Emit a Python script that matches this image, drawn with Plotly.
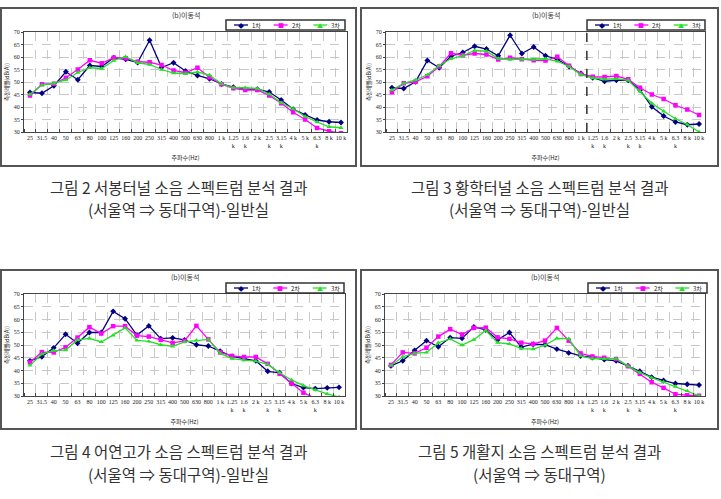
import plotly.graph_objects as go

# ---------------- data ----------------
categories = ["25", "31.5", "40", "50", "63", "80", "100", "125", "160", "200", "250",
              "315", "400", "500", "630", "800", "1 k", "1.25 k", "1.6 k", "2 k",
              "2.5 k", "3.15 k", "4 k", "5 k", "6.3 k", "8 k", "10 k"]
series_names = ["1차", "2차", "3차"]

# Fig 2 서봉터널
fig2_s1 = [45.8, 45.5, 48.5, 54.1, 50.9, 56.6, 56.2, 59.7, 59.1, 57.8, 66.7, 55.8, 57.7, 54.4,
           52.6, 51.3, 49.2, 47.9, 47.1, 47.1, 46.0, 42.8, 39.1, 36.8, 34.8, 34.1, 33.8]
fig2_s2 = [44.6, 49.1, 49.3, 51.7, 55.0, 58.7, 57.5, 59.7, 59.5, 58.1, 57.9, 56.8, 54.6, 53.7,
           55.7, 51.9, 49.1, 47.5, 46.8, 46.8, 44.6, 41.5, 37.9, 35.0, 31.6, 30.3, 29.5]
fig2_s3 = [45.1, 48.8, 49.5, 50.8, 53.8, 55.7, 55.4, 58.6, 60.1, 57.7, 57.0, 55.0, 53.6, 53.3,
           54.0, 52.8, 49.3, 47.7, 47.7, 47.4, 45.2, 41.7, 39.3, 36.2, 34.0, 32.1, 31.7]

# Fig 3 황학터널
fig3_s1 = [47.7, 47.4, 50.1, 58.6, 55.7, 60.3, 61.8, 64.3, 63.2, 60.5, 68.7, 61.4, 64.0, 60.5,
           59.1, 56.2, 53.4, 51.7, 50.3, 50.7, 50.7, 46.8, 40.1, 36.4, 34.0, 32.9, 33.2]
fig3_s2 = [45.9, 49.5, 50.1, 52.3, 56.2, 61.5, 60.7, 61.4, 61.0, 59.0, 59.7, 59.1, 58.7, 58.6,
           60.1, 56.5, 53.2, 52.1, 52.0, 52.4, 51.1, 47.7, 45.0, 43.2, 40.7, 39.0, 36.8]
fig3_s3 = [46.8, 49.5, 50.8, 52.9, 56.6, 59.3, 60.5, 62.6, 62.3, 59.4, 59.0, 59.0, 59.0, 59.3,
           58.3, 56.2, 52.9, 51.6, 51.1, 51.3, 50.7, 46.3, 41.5, 38.3, 35.3, 33.0, 30.0]

# Fig 4 어연고가
fig4_s1 = [43.8, 45.4, 48.9, 54.2, 50.7, 54.9, 54.9, 63.2, 60.3, 53.9, 57.5, 52.5, 52.8, 52.0,
           50.1, 49.6, 47.6, 45.5, 44.7, 43.8, 39.7, 39.1, 34.9, 33.3, 32.9, 33.2, 33.4]
fig4_s2 = [43.2, 47.2, 47.1, 49.1, 52.9, 57.0, 54.5, 57.4, 57.4, 53.7, 53.3, 52.0, 50.8, 51.6,
           57.5, 52.2, 47.1, 45.7, 45.3, 45.3, 42.6, 38.7, 34.9, 31.3, 29.1, 28.5, 28.0]
fig4_s3 = [42.0, 46.4, 47.8, 48.0, 52.0, 52.6, 51.2, 53.8, 56.7, 51.8, 51.4, 50.1, 49.5, 51.2,
           51.8, 52.2, 46.7, 44.7, 44.1, 43.7, 42.4, 39.1, 36.3, 34.1, 32.4, 30.8, 29.6]

# Fig 5 개활지
fig5_s1 = [41.8, 43.8, 47.9, 51.7, 49.3, 52.9, 52.6, 57.1, 55.9, 52.0, 54.9, 49.2, 50.3, 50.1,
           48.4, 46.9, 45.7, 45.1, 44.3, 43.8, 41.9, 39.7, 37.4, 36.1, 34.9, 34.6, 34.3]
fig5_s2 = [42.2, 47.1, 46.7, 48.9, 53.3, 56.2, 54.1, 56.7, 56.8, 53.0, 52.4, 50.9, 50.4, 51.7,
           56.7, 51.7, 46.7, 45.5, 45.0, 44.5, 41.7, 38.7, 35.4, 33.2, 30.7, 30.3, 30.1]
fig5_s3 = [42.0, 45.4, 46.7, 47.1, 50.9, 52.4, 50.0, 52.1, 55.7, 50.9, 50.4, 48.6, 48.4, 49.9,
           52.6, 52.5, 45.7, 44.7, 44.6, 44.7, 41.7, 39.2, 37.2, 35.5, 33.7, 32.0, 30.1]

chart_title = "(b)이동석"
x_title = "주파수(Hz)"
y_title = "측정레벨(dB(A))"
captions = [
    ("그림 2 서봉터널 소음 스펙트럼 분석 결과", "(서울역 ⇒ 동대구역)-일반실"),
    ("그림 3 황학터널 소음 스펙트럼 분석 결과", "(서울역 ⇒ 동대구역)-일반실"),
    ("그림 4 어연고가 소음 스펙트럼 분석 결과", "(서울역 ⇒ 동대구역)-일반실"),
    ("그림 5 개활지 소음 스펙트럼 분석 결과", "(서울역 ⇒ 동대구역)"),
]
y_min, y_max, y_step = 30, 70, 5
divider_after = "1 k"   # dashed separator in 그림 3

panels_data = [
    (fig2_s1, fig2_s2, fig2_s3),
    (fig3_s1, fig3_s2, fig3_s3),
    (fig4_s1, fig4_s2, fig4_s3),
    (fig5_s1, fig5_s2, fig5_s3),
]

# ---------------- styling / layout ----------------
W, H = 721, 499
def fx(p): return p / W
def fy(p): return 1 - p / H

colors = ["#000080", "#ff00ff", "#22e022"]
symbols = ["diamond", "square", "triangle-up"]
legend_glyphs = ["◆", "■", "▲"]
SERIF = "Liberation Serif, Noto Sans CJK KR"
KFONT = "Noto Sans CJK KR"

# panel geometry in pixels: box (x0,y0,x1,y1), plot area (x0,y0,x1,y1), legend box (x0,y0,x1,y1)
panels = [
    dict(box=(1, 8, 356, 166), plot=(24, 32, 347, 132), legend=(226, 20, 345, 30)),
    dict(box=(361, 8, 718, 166), plot=(386, 32, 705, 132), legend=(587, 20, 705, 30)),
    dict(box=(1, 270, 356, 429), plot=(24, 294, 345, 396), legend=(226, 283, 344, 293)),
    dict(box=(361, 270, 718, 429), plot=(385, 294, 705, 396), legend=(588, 283, 707, 293)),
]
caption_y = [(186.5, 209.5), (186.5, 209.5), (450.5, 473.5), (450.5, 473.5)]

xs = list(range(len(categories)))
ticktext = [c.replace(" k", "<br>k") if "." in c else c for c in categories]

fig = go.Figure()
shapes = []
annotations = []
layout = dict(width=W, height=H, margin=dict(l=0, r=0, t=0, b=0, autoexpand=False),
              template="none", paper_bgcolor="white", plot_bgcolor="white",
              showlegend=False)

for i, (pnl, data) in enumerate(zip(panels, panels_data)):
    n = i + 1
    xa = "x" if n == 1 else f"x{n}"
    ya = "y" if n == 1 else f"y{n}"
    for k, vals in enumerate(data):
        fig.add_trace(go.Scatter(
            x=xs, y=vals, name=series_names[k], mode="lines+markers",
            line=dict(color=colors[k], width=1.3),
            marker=dict(symbol=symbols[k], size=4.5, color=colors[k]),
            xaxis=xa, yaxis=ya))
    bx0, by0, bx1, by1 = pnl["box"]
    px0, py0, px1, py1 = pnl["plot"]
    layout[f"xaxis{'' if n == 1 else n}"] = dict(
        domain=[fx(px0), fx(px1)], anchor=ya, range=[-0.5, len(categories) - 0.5],
        tickmode="array", tickvals=xs, ticktext=ticktext, showgrid=False,
        tickfont=dict(family=SERIF, size=6, color="#222"), tickangle=0,
        ticks="", showline=True, mirror=True, linecolor="#444", linewidth=1,
        minor=dict(tickmode="linear", tick0=0.5, dtick=1, showgrid=True,
                   gridcolor="#c8c8c8", griddash="dash", gridwidth=1,
                   ticks="inside", ticklen=3, tickcolor="#444"),
        title=dict(text=x_title, font=dict(family=KFONT, size=6, color="#222"), standoff=7),
        zeroline=False, fixedrange=True, automargin=False)
    layout[f"yaxis{'' if n == 1 else n}"] = dict(
        domain=[fy(py1), fy(py0)], anchor=xa, range=[y_min, y_max], dtick=y_step,
        tick0=y_min, showgrid=True, gridcolor="#c8c8c8", griddash="dash", gridwidth=1,
        tickfont=dict(family=SERIF, size=6, color="#222"), ticks="outside", ticklen=2,
        tickcolor="#444", showline=True, mirror=True, linecolor="#444", linewidth=1,
        title=dict(text=y_title, font=dict(family=KFONT, size=5.5, color="#222"), standoff=3),
        zeroline=False, fixedrange=True, automargin=False)

    # panel frame
    shapes.append(dict(type="rect", xref="paper", yref="paper",
                       x0=fx(bx0), x1=fx(bx1), y0=fy(by1), y1=fy(by0),
                       line=dict(color="#555", width=2), layer="below"))
    # legend (box + sample line + glyph + label for each series)
    lx0, ly0, lx1, ly1 = pnl["legend"]
    shapes.append(dict(type="rect", xref="paper", yref="paper",
                       x0=fx(lx0), x1=fx(lx1), y0=fy(ly1), y1=fy(ly0),
                       line=dict(color="#333", width=1.5), fillcolor="white"))
    ymid = (ly0 + ly1) / 2
    slot = (lx1 - lx0) / len(series_names)
    for k, nm in enumerate(series_names):
        s0 = lx0 + 8 + k * slot
        shapes.append(dict(type="line", xref="paper", yref="paper",
                           x0=fx(s0), x1=fx(s0 + 14), y0=fy(ymid), y1=fy(ymid),
                           line=dict(color=colors[k], width=1.3)))
        annotations.append(dict(text=legend_glyphs[k], xref="paper", yref="paper",
                                x=fx(s0 + 7), y=fy(ymid), xanchor="center", yanchor="middle",
                                showarrow=False,
                                font=dict(family=KFONT, size=6, color=colors[k])))
        annotations.append(dict(text=nm, xref="paper", yref="paper",
                                x=fx(s0 + 16), y=fy(ymid), xanchor="left", yanchor="middle",
                                showarrow=False,
                                font=dict(family=KFONT, size=6, color="#222")))

    annotations.append(dict(text=chart_title, xref="paper", yref="paper",
                            x=fx((px0 + px1) / 2), y=fy(by0 + 7), xanchor="center",
                            yanchor="middle", showarrow=False,
                            font=dict(family=KFONT, size=7, color="#333")))
    cx = fx((bx0 + bx1) / 2)
    for line_text, cy in zip(captions[i], caption_y[i]):
        annotations.append(dict(text=line_text, xref="paper", yref="paper", x=cx, y=fy(cy),
                                xanchor="center", yanchor="middle", showarrow=False,
                                font=dict(family=KFONT, size=15.5, color="#333")))

# dashed separator in panel 2 (그림 3)
div_x = categories.index(divider_after) + 0.5
shapes.append(dict(type="line", xref="x2", yref="y2 domain", x0=div_x, x1=div_x, y0=0, y1=1,
                   line=dict(color="#333", width=1.5, dash="dash")))

layout["shapes"] = shapes
layout["annotations"] = annotations
fig.update_layout(**layout)
fig.write_html("out.html")
